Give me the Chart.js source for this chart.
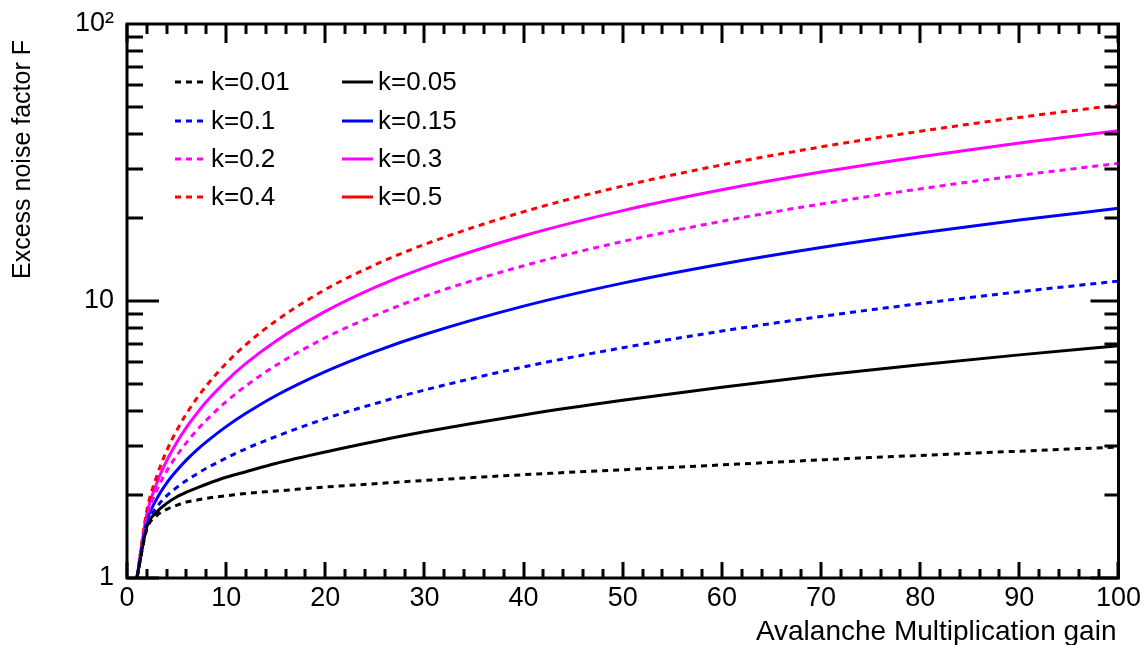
<!DOCTYPE html>
<html>
<head>
<meta charset="utf-8">
<script src="https://cdn.jsdelivr.net/npm/chart.js@4.4.1/dist/chart.umd.min.js"></script>
<style>
  html, body { margin: 0; padding: 0; background: #fff; }
  #wrap { position: relative; width: 1145px; height: 645px; }
</style>
</head>
<body>
<div id="wrap"><canvas id="c" aria-label="Excess noise factor vs avalanche gain"></canvas></div>
<script>
// gain values (x)
const gain = [1, 2, 3, 4, 5, 6, 7, 8, 10, 12, 15, 20, 25, 30, 40, 50, 60, 70, 80, 90, 100];

// excess noise factor
const fK001 = [1.00, 1.50, 1.68, 1.77, 1.83, 1.88, 1.91, 1.94, 1.98, 2.02, 2.06, 2.13, 2.19, 2.25, 2.36, 2.46, 2.56, 2.67, 2.77, 2.87, 2.97];
const fK005 = [1.00, 1.53, 1.73, 1.86, 1.96, 2.04, 2.11, 2.18, 2.31, 2.42, 2.59, 2.85, 3.11, 3.37, 3.88, 4.38, 4.88, 5.39, 5.89, 6.39, 6.89];
const fK01  = [1.00, 1.55, 1.80, 1.98, 2.12, 2.25, 2.37, 2.49, 2.71, 2.93, 3.24, 3.76, 4.26, 4.77, 5.78, 6.78, 7.79, 8.79, 9.79, 10.8, 11.8];
const fK015 = [1.00, 1.60, 1.93, 2.20, 2.44, 2.67, 2.89, 3.10, 3.52, 3.93, 4.55, 5.56, 6.57, 7.57, 9.58, 11.6, 13.6, 15.6, 17.6, 19.6, 21.6];
const fK02  = [1.00, 1.65, 2.07, 2.43, 2.76, 3.08, 3.40, 3.71, 4.33, 4.94, 5.85, 7.37, 8.87, 10.4, 13.4, 16.4, 19.4, 22.4, 25.4, 28.4, 31.4];
const fK03  = [1.00, 1.70, 2.20, 2.65, 3.08, 3.50, 3.91, 4.33, 5.14, 5.95, 7.16, 9.17, 11.2, 13.2, 17.2, 21.2, 25.2, 29.2, 33.2, 37.2, 41.2];
const fK04  = [1.00, 1.75, 2.33, 2.88, 3.40, 3.92, 4.43, 4.94, 5.95, 6.96, 8.47, 11.0, 13.5, 16.0, 21.0, 26.0, 31.0, 36.0, 41.0, 46.0, 51.0];
const fK05  = []; // in legend only, no curve visible

const xTicks = [0, 10, 20, 30, 40, 50, 60, 70, 80, 90, 100];
const yTicks = [1, 10, 100];
const yTickLabels = ['1', '10', '10²'];

const FONT = '"Liberation Sans", Arial, Helvetica, sans-serif';

function pts(ys) {
  return ys.map((y, i) => ({ x: gain[i], y }));
}

function series(label, ys, color, dotted) {
  return {
    label,
    data: pts(ys),
    borderColor: color,
    backgroundColor: color,
    borderWidth: 3,
    borderDash: dotted ? [6, 5] : [],
    pointRadius: 0,
    cubicInterpolationMode: 'monotone',
    fill: false,
    dotted,
  };
}

// legend order: dotted column left, solid column right
const datasets = [
  series('k=0.01', fK001, '#000000', true),
  series('k=0.1', fK01, '#0000ff', true),
  series('k=0.2', fK02, '#ff00ff', true),
  series('k=0.4', fK04, '#ff0000', true),
  series('k=0.05', fK005, '#000000', false),
  series('k=0.15', fK015, '#0000ff', false),
  series('k=0.3', fK03, '#ff00ff', false),
  series('k=0.5', fK05, '#ff0000', false),
];

// ROOT-style frame, inward ticks on all four sides, axis titles and legend
const rootFrame = {
  id: 'rootFrame',
  afterDraw(chart) {
    const { ctx, chartArea: a, scales } = chart;
    const xs = scales.x, ys = scales.y;
    ctx.save();
    ctx.strokeStyle = '#000';
    ctx.lineWidth = 3;
    ctx.lineCap = 'butt';

    ctx.beginPath();
    // x ticks, major every 10, minor every 2
    for (let v = 0; v <= 100; v += 2) {
      const px = Math.round(xs.getPixelForValue(v));
      const major = v % 10 === 0;
      ctx.moveTo(px, a.bottom); ctx.lineTo(px, a.bottom - (major ? 16 : 9));
      ctx.moveTo(px, a.top); ctx.lineTo(px, a.top + (major ? 19 : 10));
    }
    // log y ticks
    for (let d = 1; d <= 10; d *= 10) {
      for (let m = 1; m <= 9; m++) {
        const v = d * m;
        if (v > 100) break;
        const py = Math.round(ys.getPixelForValue(v));
        const major = m === 1;
        ctx.moveTo(a.left, py); ctx.lineTo(a.left + (major ? 32 : 16), py);
        ctx.moveTo(a.right, py); ctx.lineTo(a.right - (major ? 28 : 14), py);
      }
    }
    ctx.stroke();

    ctx.strokeRect(a.left, a.top, a.right - a.left, a.bottom - a.top);

    // axis titles
    ctx.fillStyle = '#000';
    ctx.font = '28px ' + FONT;
    ctx.textAlign = 'right';
    ctx.textBaseline = 'alphabetic';
    ctx.fillText('Avalanche Multiplication gain', a.right - 2, 640);

    ctx.save();
    ctx.translate(23, 40);
    ctx.rotate(-Math.PI / 2);
    ctx.font = '25px ' + FONT;
    ctx.textAlign = 'right';
    ctx.textBaseline = 'middle';
    ctx.fillText('Excess noise factor F', 0, 0);
    ctx.restore();

    // legend
    const rows = [82, 121, 159, 197];
    ctx.font = '26px ' + FONT;
    ctx.textAlign = 'left';
    ctx.textBaseline = 'middle';
    chart.data.datasets.forEach((ds, i) => {
      const col = i < 4 ? 0 : 1;
      const y = rows[i % 4];
      const x0 = col === 0 ? 175 : 342;
      ctx.strokeStyle = ds.borderColor;
      ctx.lineWidth = 3;
      ctx.setLineDash(ds.dotted ? [6, 5] : []);
      ctx.beginPath();
      ctx.moveTo(x0, y); ctx.lineTo(x0 + 31, y);
      ctx.stroke();
      ctx.setLineDash([]);
      ctx.fillStyle = '#000';
      ctx.fillText(ds.label, x0 + 36, y + 1);
    });
    ctx.restore();
  },
};

Chart.defaults.font.family = FONT;
Chart.defaults.color = '#000';

new Chart(document.getElementById('c'), {
  type: 'line',
  data: { datasets },
  options: {
    responsive: true,
    maintainAspectRatio: false,
    animation: false,
    layout: { padding: { left: 0, right: 24, top: 24, bottom: 0 } },
    plugins: {
      legend: { display: false },
      tooltip: { enabled: false },
    },
    scales: {
      x: {
        type: 'linear',
        min: 0,
        max: 100,
        afterBuildTicks: (s) => { s.ticks = xTicks.map((v) => ({ value: v })); },
        afterFit: (s) => { s.height = 67; },
        ticks: { font: { size: 27 }, padding: 4, maxRotation: 0, autoSkip: false },
        grid: { display: false, drawTicks: false },
        border: { display: false },
      },
      y: {
        type: 'logarithmic',
        min: 1,
        max: 100,
        afterBuildTicks: (s) => { s.ticks = yTicks.map((v) => ({ value: v })); },
        afterFit: (s) => { s.width = 127; s.paddingTop = 0; s.paddingBottom = 0; },
        ticks: {
          font: { size: 27, lineHeight: 1 },
          padding: 13,
          autoSkip: false,
          callback: (v) => yTickLabels[yTicks.indexOf(v)],
        },
        grid: { display: false, drawTicks: false },
        border: { display: false },
      },
    },
  },
  plugins: [rootFrame],
});
</script>
</body>
</html>
